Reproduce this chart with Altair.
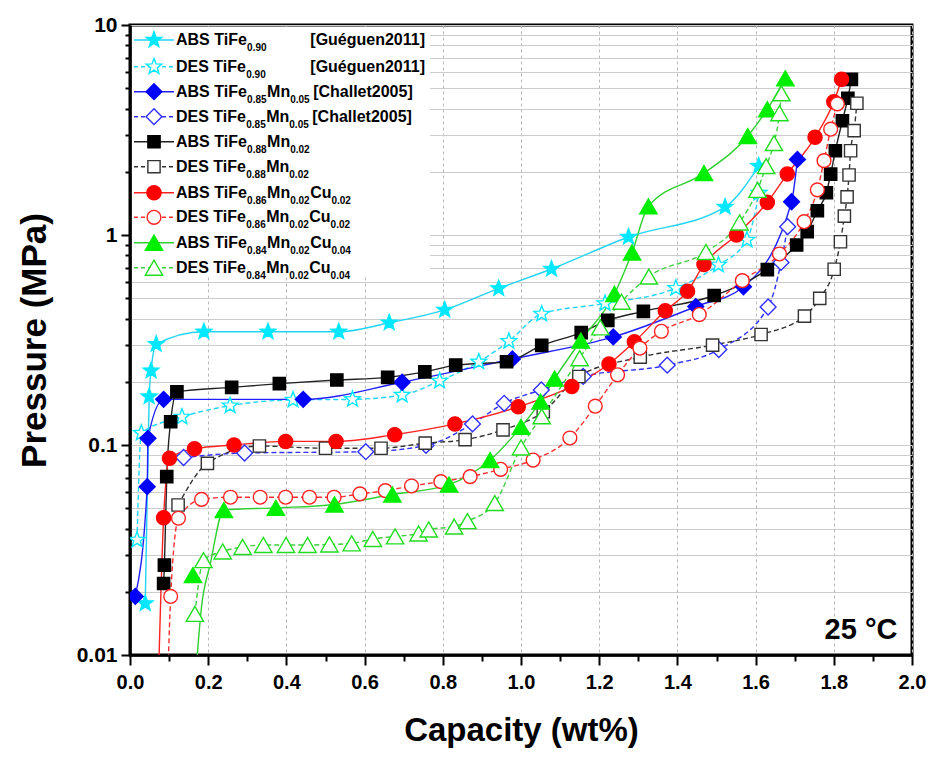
import math
import altair as alt
import pandas as pd

# ---------------- data ----------------
abs_tife_x = [0.039, 0.049, 0.054, 0.067, 0.189, 0.353, 0.534, 0.663, 0.805, 0.943, 1.078, 1.275, 1.522, 1.608]
abs_tife_p = [0.0176, 0.170, 0.226, 0.302, 0.346, 0.346, 0.346, 0.382, 0.440, 0.557, 0.689, 0.978, 1.36, 2.13]

des_tife_x = [0.018, 0.029, 0.133, 0.256, 0.417, 0.569, 0.696, 0.792, 0.892, 0.969, 1.053, 1.215, 1.396, 1.505, 1.578, 1.609]
des_tife_p = [0.0353, 0.114, 0.136, 0.154, 0.164, 0.165, 0.173, 0.202, 0.249, 0.312, 0.421, 0.472, 0.558, 0.720, 0.947, 1.585]

abs_mn5_x = [0.0135, 0.044, 0.046, 0.086, 0.443, 0.696, 0.978, 1.236, 1.447, 1.569, 1.692, 1.707]
abs_mn5_p = [0.019, 0.0633, 0.1076, 0.165, 0.165, 0.199, 0.257, 0.327, 0.456, 0.567, 1.44, 2.29]

des_mn5_x = [0.137, 0.293, 0.603, 0.757, 0.876, 0.957, 1.052, 1.159, 1.374, 1.506, 1.632, 1.665, 1.682]
des_mn5_p = [0.0872, 0.0916, 0.0929, 0.0995, 0.126, 0.158, 0.183, 0.212, 0.240, 0.285, 0.454, 0.740, 1.096]

abs_mn2_x = [0.086, 0.088, 0.094, 0.104, 0.120, 0.260, 0.382, 0.529, 0.659, 0.754, 0.833, 0.963, 1.053, 1.154,
             1.222, 1.313, 1.494, 1.630, 1.705, 1.732, 1.758, 1.781, 1.792, 1.804, 1.822, 1.836, 1.845]
abs_mn2_p = [0.0219, 0.0268, 0.0707, 0.129, 0.179, 0.188, 0.196, 0.204, 0.210, 0.223, 0.240, 0.249, 0.298, 0.343,
             0.392, 0.433, 0.515, 0.684, 0.896, 1.037, 1.305, 1.59, 1.95, 2.52, 3.50, 4.48, 5.51]

des_mn2_x = [0.123, 0.198, 0.331, 0.500, 0.642, 0.755, 0.857, 0.954, 1.057, 1.148, 1.305, 1.490, 1.614, 1.725,
             1.764, 1.801, 1.817, 1.827, 1.834, 1.839, 1.843, 1.852, 1.859]
des_mn2_p = [0.0518, 0.0818, 0.0989, 0.0965, 0.0965, 0.102, 0.106, 0.118, 0.144, 0.212, 0.262, 0.299, 0.336, 0.411,
             0.499, 0.687, 0.929, 1.23, 1.52, 1.93, 2.52, 3.14, 4.24]

abs_cu2_x = [0.086, 0.101, 0.165, 0.266, 0.398, 0.527, 0.677, 0.831, 0.993, 1.130, 1.225, 1.290, 1.369, 1.426,
             1.468, 1.551, 1.630, 1.681, 1.752, 1.800, 1.820]
abs_cu2_p = [0.045, 0.0864, 0.0959, 0.100, 0.104, 0.104, 0.112, 0.126, 0.152, 0.190, 0.243, 0.310, 0.436, 0.540,
             0.724, 1.0, 1.43, 1.95, 2.92, 4.31, 5.51]

des_cu2_x = [0.104, 0.124, 0.183, 0.257, 0.333, 0.398, 0.459, 0.522, 0.588, 0.653, 0.720, 0.795, 0.870, 0.948,
             1.031, 1.125, 1.190, 1.247, 1.304, 1.359, 1.456, 1.566, 1.661, 1.724, 1.758, 1.775, 1.792, 1.809]
des_cu2_p = [0.019, 0.0448, 0.0551, 0.0564, 0.0564, 0.0564, 0.0564, 0.0564, 0.0585, 0.0606, 0.0638, 0.0669, 0.0707,
             0.0766, 0.0848, 0.108, 0.153, 0.216, 0.289, 0.348, 0.418, 0.606, 0.812, 1.157, 1.64, 2.26, 3.19, 4.21]

abs_cu4_x = [0.161, 0.240, 0.373, 0.523, 0.671, 0.816, 0.921, 1.0, 1.05, 1.086, 1.153, 1.239, 1.284, 1.326,
             1.468, 1.580, 1.630, 1.676]
abs_cu4_p = [0.0240, 0.0490, 0.0502, 0.0521, 0.0581, 0.0648, 0.0848, 0.122, 0.161, 0.207, 0.314, 0.524, 0.826,
             1.37, 1.97, 2.96, 3.97, 5.57]

des_cu4_x = [0.166, 0.188, 0.237, 0.288, 0.341, 0.399, 0.454, 0.510, 0.567, 0.621, 0.678, 0.738, 0.764, 0.829,
             0.863, 0.933, 1.0, 1.053, 1.150, 1.203, 1.257, 1.327, 1.473, 1.559, 1.605, 1.627, 1.647, 1.661, 1.666]
des_cu4_p = [0.0157, 0.0283, 0.0311, 0.0327, 0.0334, 0.0334, 0.0334, 0.0336, 0.034, 0.0357, 0.0367, 0.0379,
             0.0396, 0.0409, 0.0434, 0.0529, 0.0973, 0.137, 0.259, 0.363, 0.481, 0.634, 0.830, 1.147, 1.64, 2.13,
             2.74, 3.80, 4.73]

# fitted-curve tails that run below the 0.01 axis (curve only, no markers)
abs_cu2_tail_x, abs_cu2_tail_p = [0.073], [0.008]
des_cu2_tail_x, des_cu2_tail_p = [0.097], [0.008]
abs_cu4_tail_x, abs_cu4_tail_p = [0.168, 0.183, 0.205], [0.008, 0.017, 0.027]

legend_labels = [
    [("ABS TiFe", 0), ("0.90", 1)],
    [("DES TiFe", 0), ("0.90", 1)],
    [("ABS TiFe", 0), ("0.85", 1), ("Mn", 0), ("0.05", 1)],
    [("DES TiFe", 0), ("0.85", 1), ("Mn", 0), ("0.05", 1)],
    [("ABS TiFe", 0), ("0.88", 1), ("Mn", 0), ("0.02", 1)],
    [("DES TiFe", 0), ("0.88", 1), ("Mn", 0), ("0.02", 1)],
    [("ABS TiFe", 0), ("0.86", 1), ("Mn", 0), ("0.02", 1), ("Cu", 0), ("0.02", 1)],
    [("DES TiFe", 0), ("0.86", 1), ("Mn", 0), ("0.02", 1), ("Cu", 0), ("0.02", 1)],
    [("ABS TiFe", 0), ("0.84", 1), ("Mn", 0), ("0.02", 1), ("Cu", 0), ("0.04", 1)],
    [("DES TiFe", 0), ("0.84", 1), ("Mn", 0), ("0.02", 1), ("Cu", 0), ("0.04", 1)],
]
legend_cites = ["[Guéguen2011]", "[Guéguen2011]", "[Challet2005]", "[Challet2005]", "", "", "", "", "", ""]

# ---------------- styling ----------------
W, H = 782, 630
FONT = "Liberation Sans, Arial, Helvetica"

_r = []
for i in range(10):
    ang = -math.pi / 2 + i * math.pi / 5
    rad = 1.0 if i % 2 == 0 else 0.42
    _r.append(f"{rad * math.cos(ang):.4f},{rad * math.sin(ang):.4f}")
STAR = "M" + "L".join(_r) + "Z"

CYAN, BLUE, BLACK, RED, GREEN = "#00E8FF", "#0000FF", "#000000", "#FF0000", "#00EE00"

series = [
    dict(x=abs_tife_x, p=abs_tife_p, shape=STAR, size=270, color=CYAN, fill=CYAN, line="#22D4F4", dash=None),
    dict(x=des_tife_x, p=des_tife_p, shape=STAR, size=270, color=CYAN, fill="white", line="#22D4F4", dash=[5, 3]),
    dict(x=abs_mn5_x, p=abs_mn5_p, shape="diamond", size=250, color=BLUE, fill=BLUE, line="#2020FF", dash=None),
    dict(x=des_mn5_x, p=des_mn5_p, shape="diamond", size=250, color="#3030FF", fill="white", line="#3030FF", dash=[5, 3]),
    dict(x=abs_mn2_x, p=abs_mn2_p, shape="square", size=150, color=BLACK, fill=BLACK, line="#222222", dash=None),
    dict(x=des_mn2_x, p=des_mn2_p, shape="square", size=150, color="#333333", fill="white", line="#333333", dash=[5, 3]),
    dict(x=abs_cu2_x, p=abs_cu2_p, shape="circle", size=200, color=RED, fill=RED, line="#FF2020", dash=None,
         tx=abs_cu2_tail_x, tp=abs_cu2_tail_p),
    dict(x=des_cu2_x, p=des_cu2_p, shape="circle", size=190, color="#FF2020", fill="white", line="#FF3030", dash=[5, 3],
         tx=des_cu2_tail_x, tp=des_cu2_tail_p),
    dict(x=abs_cu4_x, p=abs_cu4_p, shape="triangle-up", size=300, color=GREEN, fill=GREEN, line="#30D030", dash=None,
         tx=abs_cu4_tail_x, tp=abs_cu4_tail_p, skip=1),
    dict(x=des_cu4_x, p=des_cu4_p, shape="triangle-up", size=300, color="#20DD20", fill="white", line="#40D040", dash=[5, 3]),
]

MAJX = "abs(datum.value*5 - round(datum.value*5)) < 0.001"
MAJY = "abs(log(datum.value)/LN10 - round(log(datum.value)/LN10)) < 0.001"
xt = [round(i * 0.1, 1) for i in range(21)]
yt = [round(k * 10.0 ** e, 6) for e in (-2, -1, 0) for k in range(1, 10)] + [10.0]

x_axis = alt.Axis(values=xt, format=".1f", labelExpr=f"{MAJX} ? datum.label : ''",
                  tickSize={"condition": {"test": MAJX, "value": 10}, "value": 6},
                  tickWidth=2, tickColor="black", domainColor="black", domainWidth=2.5,
                  labelFont=FONT, labelFontSize=20, labelFontWeight="bold", labelColor="black",
                  labelPadding=7, labelFlush=False, labelOverlap=False,
                  grid=True, gridDash=[3, 3], gridColor="#b8b8b8", gridWidth=1,
                  gridOpacity={"condition": {"test": MAJX, "value": 1}, "value": 0},
                  title="Capacity (wt%)", titleFont=FONT, titleFontSize=33, titleFontWeight="bold",
                  titleColor="black", titlePadding=22)
y_axis = alt.Axis(values=yt, format="~g", labelExpr=f"{MAJY} ? datum.label : ''",
                  tickSize={"condition": {"test": MAJY, "value": 9}, "value": 5},
                  tickWidth=2, tickColor="black", domainColor="black", domainWidth=2.5,
                  labelFont=FONT, labelFontSize=21, labelFontWeight="bold", labelColor="black",
                  labelPadding=4, labelOverlap=False,
                  grid=True, gridColor="#cccccc", gridWidth=1.2,
                  title="Pressure (MPa)", titleFont=FONT, titleFontSize=35, titleFontWeight="bold",
                  titleColor="black", titlePadding=24)

X = alt.X("x:Q", scale=alt.Scale(domain=[0, 2], nice=False, zero=False), axis=x_axis)
Y = alt.Y("p:Q", scale=alt.Scale(type="log", domain=[0.01, 10], nice=False), axis=y_axis)

layers = []
# curves
for s in series:
    skip = s.get("skip", 0)
    cx = list(s.get("tx", [])) + list(s["x"][skip:])
    cp = list(s.get("tp", [])) + list(s["p"][skip:])
    df = pd.DataFrame({"x": cx, "p": cp, "o": list(range(len(cx)))})
    kw = dict(interpolate="monotone", clip=True, color=s["line"], strokeWidth=1.4)
    if s["dash"]:
        kw["strokeDash"] = s["dash"]
    layers.append(alt.Chart(df).mark_line(**kw).encode(x=X, y=Y, order="o:Q"))
# markers
for s in series:
    df = pd.DataFrame({"x": s["x"], "p": s["p"]})
    layers.append(alt.Chart(df).mark_point(shape=s["shape"], size=s["size"], filled=True, fill=s["fill"],
                                           stroke=s["color"], strokeWidth=1.4, opacity=1, fillOpacity=1,
                                           clip=True)
                  .encode(x=X, y=Y))

one = pd.DataFrame({"k": [0]})
# legend background
layers.append(alt.Chart(one).mark_rect(fill="white", stroke=None)
              .encode(x=alt.value(2), x2=alt.value(300), y=alt.value(2), y2=alt.value(251)))

# legend rows
ROW_Y = [15.0, 41.7, 66.7, 91.7, 116.7, 141.7, 167.7, 192.3, 217.7, 242.7]
AW = {'A': 722, 'B': 722, 'S': 667, 'D': 722, 'E': 667, ' ': 278, 'T': 611, 'i': 278, 'F': 611, 'e': 556,
      'M': 833, 'n': 611, 'C': 722, 'u': 611, '.': 278}
MAIN_FS, SUB_FS = 16, 10


def tw(txt, fs):
    return sum(AW.get(c, 556) for c in txt) / 1000.0 * fs


for i, s in enumerate(series):
    ly = ROW_Y[i]
    kw = dict(color=s["line"], strokeWidth=1.4)
    if s["dash"]:
        kw["strokeDash"] = [4, 3]
    layers.append(alt.Chart(one).mark_rule(**kw)
                  .encode(x=alt.value(4), x2=alt.value(44), y=alt.value(ly)))
    layers.append(alt.Chart(one).mark_point(shape=s["shape"], size=s["size"], filled=True, fill=s["fill"],
                                            stroke=s["color"], strokeWidth=1.4, opacity=1, fillOpacity=1)
                  .encode(x=alt.value(24), y=alt.value(ly)))
    cx = 46.0
    for txt, sub in legend_labels[i]:
        fs = SUB_FS if sub else MAIN_FS
        yy = ly + (8 if sub else 0)
        layers.append(alt.Chart(one).mark_text(text=txt, align="left", baseline="middle", font=FONT,
                                               fontSize=fs, fontWeight="bold", color="black")
                      .encode(x=alt.value(cx), y=alt.value(yy)))
        cx += tw(txt, fs) + (0.5 if sub else 0)
    if legend_cites[i]:
        cxx = 180.3 if i < 2 else cx + 3
        layers.append(alt.Chart(one).mark_text(text=legend_cites[i], align="left", baseline="middle", font=FONT,
                                               fontSize=MAIN_FS, fontWeight="bold", color="black")
                      .encode(x=alt.value(cxx), y=alt.value(ly)))

# temperature annotation
layers.append(alt.Chart(one).mark_text(text="25 °C", align="center", baseline="middle", font=FONT,
                                       fontSize=29, fontWeight="bold", color="black")
              .encode(x=alt.value(731), y=alt.value(605)))

chart = alt.layer(*layers).properties(
    width=W, height=H,
    padding={"left": 122, "top": 17, "right": 16, "bottom": 95},
    autosize=alt.AutoSizeParams(type="none"),
    background="white",
).configure_view(stroke="black", strokeWidth=3)

chart.save("out.html", embed_options={"renderer": "svg", "actions": False})
